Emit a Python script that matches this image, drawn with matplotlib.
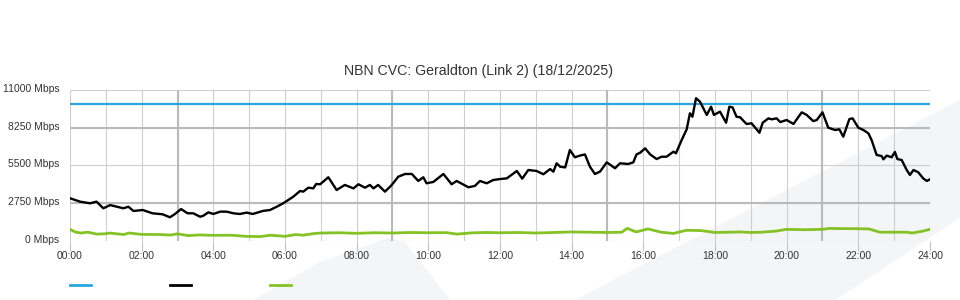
import matplotlib
matplotlib.use('Agg')
import matplotlib.pyplot as plt
import matplotlib.transforms as mtransforms
from matplotlib.lines import Line2D
from matplotlib.patches import Polygon

plt.rcParams['font.family'] = ['Liberation Sans', 'DejaVu Sans']

title = 'NBN CVC: Geraldton (Link 2) (18/12/2025)'

# capacidade contratada (linha azul)
capacity = 10000

# tráfego (linha preta), horas do dia
black_hours = [0, 0.28, 0.56, 0.74, 0.93, 1.12, 1.49, 1.63, 1.77, 2.03,
               2.3, 2.58, 2.79, 2.93, 3.1, 3.28, 3.44, 3.63, 3.72, 3.86,
               4.0, 4.19, 4.37, 4.56, 4.74, 4.93, 5.1, 5.38, 5.58, 5.77,
               5.95, 6.23, 6.42, 6.51, 6.65, 6.79, 6.87, 6.98, 7.21, 7.44,
               7.67, 7.91, 8.05, 8.23, 8.37, 8.47, 8.6, 8.79, 8.98, 9.16,
               9.35, 9.54, 9.72, 9.86, 9.95, 10.14, 10.42, 10.65, 10.79, 11.12,
               11.3, 11.44, 11.63, 11.81, 12.0, 12.19, 12.47, 12.62, 12.79, 13.02,
               13.21, 13.4, 13.49, 13.58, 13.68, 13.82, 13.95, 14.09, 14.23, 14.37,
               14.51, 14.65, 14.79, 14.98, 15.21, 15.35, 15.58, 15.72, 15.81, 15.91,
               16.05, 16.19, 16.37, 16.51, 16.65, 16.84, 16.91, 17.07, 17.21, 17.3,
               17.37, 17.47, 17.58, 17.77, 17.89, 17.97, 18.14, 18.31, 18.4, 18.49,
               18.6, 18.7, 18.88, 19.02, 19.24, 19.33, 19.49, 19.58, 19.72, 19.82,
               20.0, 20.19, 20.42, 20.56, 20.74, 20.84, 21.0, 21.16, 21.35, 21.47,
               21.58, 21.75, 21.84, 22.0, 22.14, 22.28, 22.37, 22.51, 22.65, 22.7,
               22.79, 22.93, 23.02, 23.09, 23.21, 23.35, 23.44, 23.54, 23.67, 23.81,
               23.91, 24.0]
black_mbps = [3100, 2850, 2730, 2850, 2365, 2600, 2365, 2480, 2170, 2240,
              2000, 1930, 1710, 1950, 2310, 2000, 2000, 1750, 1820, 2070,
              1950, 2120, 2120, 2000, 1950, 2050, 1950, 2170, 2240, 2480,
              2730, 3210, 3630, 3580, 3870, 3820, 4140, 4120, 4630, 3700,
              4070, 3820, 4120, 3870, 4070, 3820, 4070, 3580, 4070, 4670,
              4870, 4870, 4360, 4630, 4190, 4290, 4870, 4120, 4360, 3900,
              4000, 4360, 4190, 4430, 4500, 4550, 5090, 4530, 5160, 5090,
              4850, 5230, 5040, 5650, 5400, 5350, 6620, 6090, 6210, 6300,
              5400, 4870, 5040, 5720, 5290, 5650, 5600, 5720, 6300, 6420,
              6740, 6300, 5960, 6130, 6130, 6500, 6380, 7350, 8130, 9300,
              9050, 10400, 10150, 9180, 9780, 9180, 9420, 8610, 9780, 9730,
              9050, 9010, 8520, 8570, 7880, 8610, 8930, 8860, 8930, 8660,
              8810, 8520, 9370, 9180, 8730, 8810, 9370, 8250, 8080, 8130,
              7590, 8880, 8930, 8250, 8080, 7840, 7350, 6260, 6180, 5940,
              6210, 6090, 6480, 5960, 5890, 5160, 4800, 5160, 5000, 4550,
              4360, 4480]

# linha verde
green_hours = [0, 0.15, 0.3, 0.5, 0.75, 1.0, 1.1, 1.5, 1.65, 2.0,
               2.5, 2.8, 3.0, 3.3, 3.6, 4.0, 4.5, 4.9, 5.3, 5.6,
               6.0, 6.3, 6.5, 6.8, 7.0, 7.5, 8.0, 8.5, 9.0, 9.5,
               10.0, 10.5, 10.8, 11.2, 11.6, 12.0, 12.5, 13.0, 13.5, 14.0,
               14.5, 15.0, 15.4, 15.55, 15.8, 16.13, 16.5, 16.84, 17.2, 17.6,
               18.0, 18.4, 18.7, 19.0, 19.3, 19.7, 20.0, 20.5, 21.0, 21.2,
               21.5, 21.8, 22.3, 22.6, 23.0, 23.35, 23.5, 23.8, 24.0]
green_mbps = [830, 630, 560, 620, 480, 510, 560, 450, 560, 460,
              450, 410, 500, 370, 420, 390, 400, 320, 300, 400,
              320, 450, 400, 520, 560, 580, 540, 580, 560, 600,
              580, 590, 480, 570, 600, 580, 600, 560, 600, 640,
              620, 600, 620, 900, 640, 860, 620, 530, 760, 740,
              600, 620, 640, 600, 620, 700, 830, 800, 830, 900,
              880, 880, 860, 620, 620, 620, 560, 700, 830]

y_ticks = [0, 2750, 5500, 8250, 11000]
x_ticks = list(range(0, 25, 2))
x_labels = ['%02d:00' % h for h in x_ticks]

blue = '#2aa7df'
green = '#84c226'
txt = '#333333'

fig = plt.figure(figsize=(9.6, 3.0), dpi=100)

# marca d'água ao fundo
def fpt(x, y):
    return (x / 960, 1 - y / 300)

wm = '#f4f5f7'
fig.patches.append(Polygon([fpt(575, 300), fpt(960, 100), fpt(960, 218), fpt(835, 300)],
                           closed=True, facecolor=wm, edgecolor='none',
                           transform=fig.transFigure, zorder=0))
fig.patches.append(Polygon([fpt(253, 300), fpt(320, 262), fpt(388, 238), fpt(405, 242),
                            fpt(450, 300)],
                           closed=True, facecolor=wm, edgecolor='none',
                           transform=fig.transFigure, zorder=0))

ax = fig.add_axes([70 / 960, 1 - 240.7 / 300, 860 / 960, 150.7 / 300])
ax.set_zorder(2)
ax.patch.set_alpha(0)

ax.plot([0, 24], [capacity, capacity], color=blue, lw=1.6, zorder=3)
ax.plot(black_hours, black_mbps, color='black', lw=1.7, zorder=4)
ax.plot(green_hours, green_mbps, color=green, lw=2.0, zorder=3)

ax.set_xlim(0, 24)
ax.set_ylim(0, 11000)
ax.set_xticks(x_ticks)
ax.set_xticklabels(x_labels)
ax.set_xticks(range(25), minor=True)
ax.set_yticks(y_ticks)
ax.set_yticklabels(['%d Mbps' % v for v in y_ticks])

ax.tick_params(axis='x', which='major', length=7, width=0.8, color='#c4c4c4',
               pad=0.5, labelsize=7.5, labelcolor=txt)
ax.tick_params(axis='x', which='minor', length=0)
ax.tick_params(axis='y', length=0, pad=7.5, labelsize=7.5, labelcolor=txt)

# rótulos do eixo y um pouco acima da linha de grade
up = mtransforms.ScaledTranslation(0, 2 / 100, fig.dpi_scale_trans)
for lab in ax.get_yticklabels():
    lab.set_transform(lab.get_transform() + up)

ax.grid(which='both', color='#cfcfcf', lw=0.8, zorder=1)
for h in [3, 9, 15, 21]:
    ax.axvline(h, color='#bababa', lw=1.5, zorder=1)
for v in [2750, 8250]:
    ax.axhline(v, color='#bababa', lw=1.5, zorder=1)
ax.set_axisbelow(True)
for s in ax.spines.values():
    s.set_visible(False)

fig.text(479 / 960, 1 - 71 / 300, title, ha='center', va='center',
         fontsize=10.2, color=txt)

# legenda sem texto: só os traços coloridos
for x0, c in [(70, blue), (170, 'black'), (270, green)]:
    fig.add_artist(Line2D([x0 / 960, (x0 + 21) / 960], [1 - 285 / 300] * 2,
                          color=c, lw=2.0, transform=fig.transFigure))

fig.savefig('out.png', dpi=100)
